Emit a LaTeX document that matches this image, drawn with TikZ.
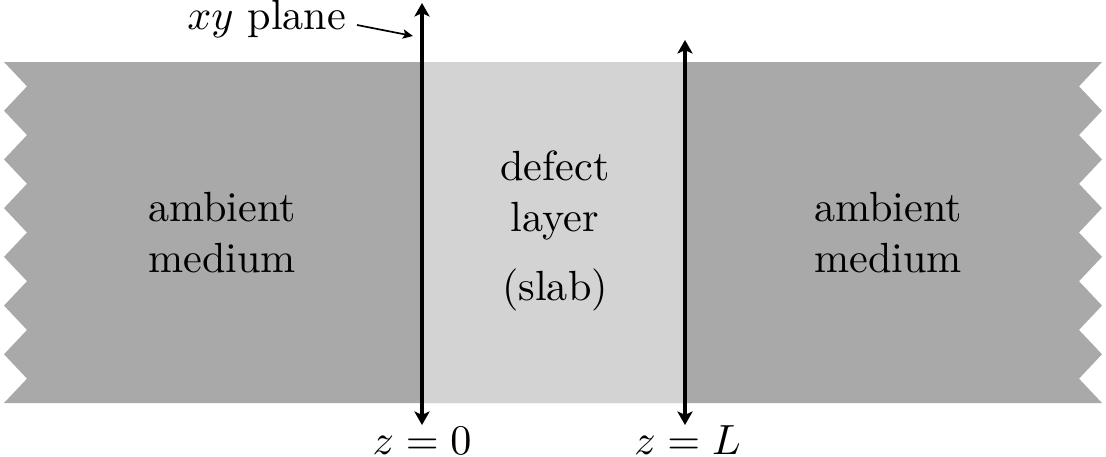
\documentclass[tikz,border=0pt]{standalone}
\usetikzlibrary{arrows.meta}
\definecolor{ambientgray}{HTML}{A9A9A9}
\definecolor{slabgray}{HTML}{D3D3D3}
\tikzset{
  ambient/.style={fill=ambientgray},
  slabfill/.style={fill=slabgray},
  axisarrow/.style={line width=0.9pt,{Stealth[length=3.2pt,width=3.6pt,inset=0.8pt]}-{Stealth[length=3.2pt,width=3.6pt,inset=0.8pt]}},
  pointer/.style={line width=0.4pt,-{Stealth[length=2.4pt,width=2.2pt,inset=0.5pt]}},
  txt/.style={align=center,inner sep=0pt,font=\normalsize},
}
\begin{document}
\begin{tikzpicture}[x=0.23697pt,y=-0.23697pt]
\useasboundingbox (0,0) rectangle (1106,457);
% ambient band with zigzag edges
\fill[ambient] (4,62)
  \foreach \i in {1,...,7} { -- (27,{62+48.714*(\i-0.5)}) -- (4,{62+48.714*\i}) }
  -- (1102,403)
  \foreach \i in {1,...,7} { -- (1079,{403-48.714*(\i-0.5)}) -- (1102,{403-48.714*\i}) }
  -- cycle;
% slab
\fill[slabfill] (422,62) rectangle (685,403);
% texts
\node[txt] (ambL) at (222,232.6) {ambient\\medium};
\node[txt] (ambR) at (888,232.6) {ambient\\medium};
\node[txt] (defect) at (555,195.5) {defect\\layer};
\node[txt,anchor=base] (slab) at (555,300) {(slab)};
\node[txt,anchor=base] (z0) at (422,454) {$z=0$};
\node[txt,anchor=base] (zL) at (687.5,454) {$z=L$};
\node[txt,anchor=base east] (xy) at (347,29) {$xy$ plane};
% arrows
\coordinate (a1top) at (422,3);
\coordinate (a1bot) at (422,425);
\coordinate (a2top) at (685,40);
\coordinate (a2bot) at (685,425);
\coordinate (ptr) at (413,36);
\draw[axisarrow] (a1bot) -- (a1top);
\draw[axisarrow] (a2bot) -- (a2top);
\draw[pointer] ([shift={(10,-4)}]xy.base east) -- (ptr);
\end{tikzpicture}
\end{document}
